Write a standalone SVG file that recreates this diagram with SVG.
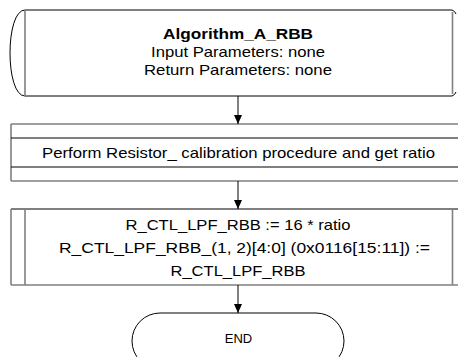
<svg xmlns="http://www.w3.org/2000/svg" width="458" height="357" viewBox="0 0 458 357">
<style>
.t{font-family:"Liberation Sans",Arial,sans-serif;font-size:15px;fill:#000;text-anchor:middle}
.b{font-weight:bold}
.k{fill:none;stroke:#000;stroke-width:1}
.g{fill:none;stroke:#808080;stroke-width:1.6}
.w{fill:#fff;stroke:none}
</style>
<defs>
<marker id="ah" markerWidth="9" markerHeight="8" refX="9" refY="4" orient="auto" markerUnits="userSpaceOnUse">
<path d="M0,0 L9,4 L0,8 Z" fill="#000"/>
</marker>
</defs>
<g id="start">
<path class="w" d="M25,10 C5,10 5,96 25,96 H452 V10 Z"/>
<path class="k" d="M25,10 C5,10 5,96 25,96"/>
<path class="k" d="M25,10 H452 Q455,11 456,14 M25,96 H452 Q455,95 456,92"/>
<path class="g" d="M25,10 V96 M452.5,12 V94"/>
<text class="t b" x="238" y="39" textLength="150" lengthAdjust="spacingAndGlyphs">Algorithm_A_RBB</text>
<text class="t" x="238" y="57" textLength="174" lengthAdjust="spacingAndGlyphs">Input Parameters: none</text>
<text class="t" x="238" y="75" textLength="188" lengthAdjust="spacingAndGlyphs">Return Parameters: none</text>
</g>
<g id="calib">
<rect class="w" x="11" y="124" width="452" height="57"/>
<path class="g" d="M11,124 H460 M11,181 H460 M11,124 V181"/>
<path class="k" d="M11,138 H460 M11,167 H460"/>
<text class="t" x="238.5" y="158" textLength="393" lengthAdjust="spacingAndGlyphs">Perform Resistor_ calibration procedure and get ratio</text>
</g>
<g id="assign">
<rect class="w" x="11" y="209" width="452" height="76"/>
<path class="k" d="M11,209 H460"/>
<path class="g" d="M11,285 H460 M11,209 V285 M25,209 V285 M452.5,209 V285"/>
<text class="t" x="238" y="230" textLength="225" lengthAdjust="spacingAndGlyphs">R_CTL_LPF_RBB := 16 * ratio</text>
<text class="t" x="244.5" y="253" textLength="371" lengthAdjust="spacingAndGlyphs">R_CTL_LPF_RBB_(1, 2)[4:0] (0x0116[15:11]) :=</text>
<text class="t" x="238" y="276" textLength="135" lengthAdjust="spacingAndGlyphs">R_CTL_LPF_RBB</text>
</g>
<g id="end">
<rect x="132" y="313" width="212" height="56" rx="28" ry="28" fill="#fff" stroke="#000" stroke-width="1"/>
<text class="t" x="238.5" y="343" style="font-size:13px">END</text>
</g>
<g id="connectors">
<line class="k" x1="238" y1="96" x2="238" y2="124" marker-end="url(#ah)"/>
<line class="k" x1="238" y1="181" x2="238" y2="209" marker-end="url(#ah)"/>
<line class="k" x1="238" y1="285" x2="238" y2="313" marker-end="url(#ah)"/>
</g>
</svg>
